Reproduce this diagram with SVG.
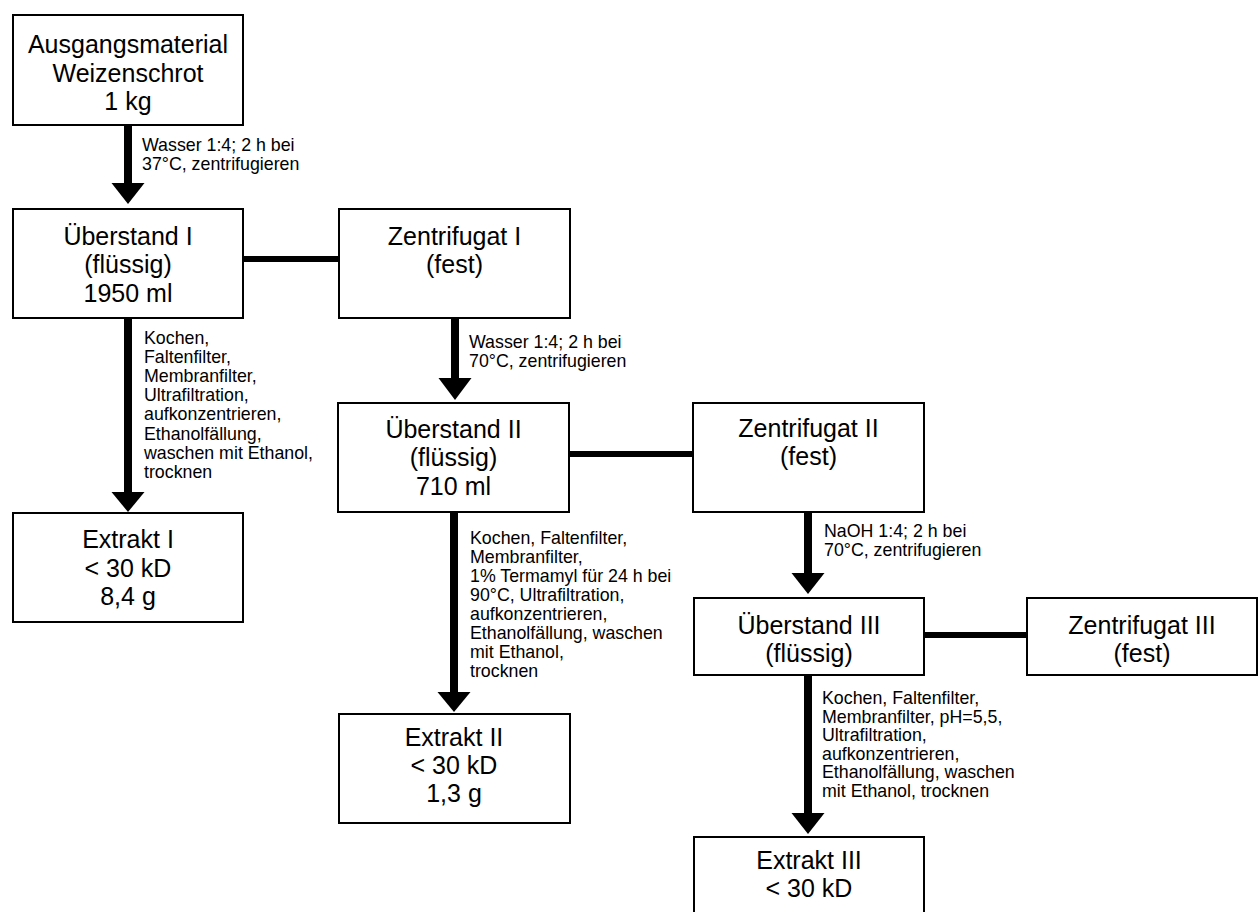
<svg xmlns="http://www.w3.org/2000/svg" width="1259" height="912" viewBox="0 0 1259 912">
<style>
.box{fill:#fff;stroke:#000;stroke-width:2}
.t{font-family:"Liberation Sans",Arial,Helvetica,sans-serif;font-size:25px;fill:#000;text-anchor:middle}
.l{font-family:"Liberation Sans",Arial,Helvetica,sans-serif;font-size:17.8px;fill:#000}
.shaft{stroke:#000;stroke-width:8;fill:none}
.link{stroke:#000;stroke-width:6;fill:none}
.head{fill:#000}
</style>
<rect width="1259" height="912" fill="#fff"/>
<g id="connectors">
<line class="link" x1="244" y1="259" x2="338" y2="259"/>
<line class="link" x1="570" y1="454" x2="692" y2="454"/>
<line class="link" x1="924" y1="635" x2="1026" y2="635"/>
<line class="shaft" x1="128" y1="126" x2="128" y2="184"/>
<polygon class="head" points="111.5,183 144.5,183 128,204"/>
<line class="shaft" x1="128" y1="319" x2="128" y2="493"/>
<polygon class="head" points="111.5,492 144.5,492 128,512"/>
<line class="shaft" x1="455" y1="319" x2="455" y2="379"/>
<polygon class="head" points="438.5,378 471.5,378 455,400"/>
<line class="shaft" x1="454" y1="513" x2="454" y2="693"/>
<polygon class="head" points="437.5,692 470.5,692 454,712"/>
<line class="shaft" x1="808" y1="513" x2="808" y2="574"/>
<polygon class="head" points="791.5,573 824.5,573 808,594"/>
<line class="shaft" x1="808" y1="676" x2="808" y2="814"/>
<polygon class="head" points="791.5,813 824.5,813 808,834"/>
<text class="l" x="142"><tspan x="142" y="151">Wasser 1:4; 2 h bei</tspan><tspan x="142" y="170">37°C, zentrifugieren</tspan></text>
<text class="l"><tspan x="144" y="344">Kochen,</tspan><tspan x="144" y="363">Faltenfilter,</tspan><tspan x="144" y="382">Membranfilter,</tspan><tspan x="144" y="401">Ultrafiltration,</tspan><tspan x="144" y="420">aufkonzentrieren,</tspan><tspan x="144" y="439.5">Ethanolfällung,</tspan><tspan x="144" y="458.5">waschen mit Ethanol,</tspan><tspan x="144" y="477.5">trocknen</tspan></text>
<text class="l"><tspan x="469" y="347.5">Wasser 1:4; 2 h bei</tspan><tspan x="469" y="366.5">70°C, zentrifugieren</tspan></text>
<text class="l"><tspan x="470" y="543.5">Kochen, Faltenfilter,</tspan><tspan x="470" y="562.5">Membranfilter,</tspan><tspan x="470" y="581.5">1% Termamyl für 24 h bei</tspan><tspan x="470" y="600.5">90°C, Ultrafiltration,</tspan><tspan x="470" y="619.5">aufkonzentrieren,</tspan><tspan x="470" y="638.5">Ethanolfällung, waschen</tspan><tspan x="470" y="657.5">mit Ethanol,</tspan><tspan x="470" y="676.5">trocknen</tspan></text>
<text class="l"><tspan x="824" y="537">NaOH 1:4; 2 h bei</tspan><tspan x="824" y="556">70°C, zentrifugieren</tspan></text>
<text class="l"><tspan x="822" y="703.5">Kochen, Faltenfilter,</tspan><tspan x="822" y="722.5">Membranfilter, pH=5,5,</tspan><tspan x="822" y="741">Ultrafiltration,</tspan><tspan x="822" y="759.5">aufkonzentrieren,</tspan><tspan x="822" y="778">Ethanolfällung, waschen</tspan><tspan x="822" y="797">mit Ethanol, trocknen</tspan></text>
</g>
<g id="ausgangsmaterial">
<rect class="box" x="13" y="15" width="230" height="110"/>
<text class="t"><tspan x="128" y="53">Ausgangsmaterial</tspan><tspan x="128" y="82">Weizenschrot</tspan><tspan x="128" y="110">1 kg</tspan></text>
</g>
<g id="ueberstand1">
<rect class="box" x="13" y="209" width="230" height="109"/>
<text class="t"><tspan x="128" y="244.5">Überstand I</tspan><tspan x="128" y="273">(flüssig)</tspan><tspan x="128" y="301.5">1950 ml</tspan></text>
</g>
<g id="zentrifugat1">
<rect class="box" x="339" y="209" width="231" height="109"/>
<text class="t"><tspan x="454.5" y="244.5">Zentrifugat I</tspan><tspan x="454.5" y="273">(fest)</tspan></text>
</g>
<g id="extrakt1">
<rect class="box" x="13" y="513" width="230" height="109"/>
<text class="t"><tspan x="128" y="548">Extrakt I</tspan><tspan x="128" y="577">&lt; 30 kD</tspan><tspan x="128" y="605">8,4 g</tspan></text>
</g>
<g id="ueberstand2">
<rect class="box" x="338" y="403" width="231" height="109"/>
<text class="t"><tspan x="453.5" y="437.5">Überstand II</tspan><tspan x="453.5" y="466">(flüssig)</tspan><tspan x="453.5" y="494.5">710 ml</tspan></text>
</g>
<g id="zentrifugat2">
<rect class="box" x="693" y="403" width="231" height="109"/>
<text class="t"><tspan x="808.5" y="436.5">Zentrifugat II</tspan><tspan x="808.5" y="465">(fest)</tspan></text>
</g>
<g id="extrakt2">
<rect class="box" x="339" y="714" width="231" height="109"/>
<text class="t"><tspan x="454" y="746">Extrakt II</tspan><tspan x="454" y="774">&lt; 30 kD</tspan><tspan x="454" y="802">1,3 g</tspan></text>
</g>
<g id="ueberstand3">
<rect class="box" x="694" y="598" width="230" height="77"/>
<text class="t"><tspan x="809" y="633.5">Überstand III</tspan><tspan x="809" y="662">(flüssig)</tspan></text>
</g>
<g id="zentrifugat3">
<rect class="box" x="1027" y="598" width="230" height="77"/>
<text class="t"><tspan x="1142" y="633.5">Zentrifugat III</tspan><tspan x="1142" y="662">(fest)</tspan></text>
</g>
<g id="extrakt3">
<rect class="box" x="694" y="837" width="230" height="100"/>
<text class="t"><tspan x="809" y="869">Extrakt III</tspan><tspan x="809" y="897">&lt; 30 kD</tspan></text>
</g>
</svg>
